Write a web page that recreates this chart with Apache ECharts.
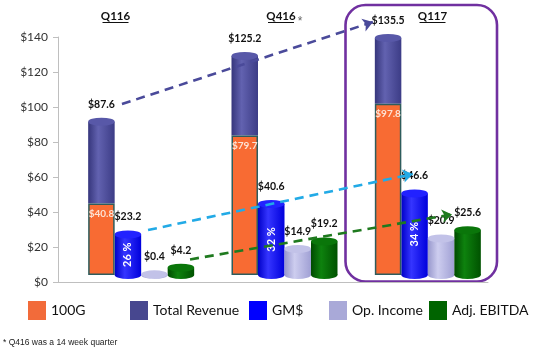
<!DOCTYPE html>
<html><head><meta charset="utf-8">
<script src="https://cdn.jsdelivr.net/npm/echarts/dist/echarts.min.js"></script>
<style>html,body{margin:0;padding:0;background:#fff}#c{width:542px;height:348px}</style>
</head><body><div id="c"></div>
<script>
// ---- data ----
const quarters = ['Q116', 'Q416', 'Q117'];
const g100 = [40.8, 79.7, 97.8];
const totalRevenue = [87.6, 125.2, 135.5];
const gmDollars = [23.2, 40.6, 46.6];
const gmPercent = ['26 %', '32 %', '34 %'];
const opIncome = [0.4, 14.9, 20.9];
const adjEbitda = [4.2, 19.2, 25.6];
const yMin = 0, yMax = 140, yStep = 20;
// trend arrows: [category position, value] start/end in data space
const revTrend = [[-0.134, 97.7], [1.617, 144.6]];
const gmTrend = [[0.048, 25.7], [1.896, 57.7]];
const ebitdaTrend = [[0.341, 8.9], [2.169, 34.6]];
const footnote = '* Q416 was a 14 week quarter';

// ---- styling ----
const FONT = 'Lato, "Open Sans", sans-serif';
const BW = 26.5;
function cyl(a, b, c) {
  return {type: 'linear', x: 0, y: 0, x2: 1, y2: 0,
    colorStops: [{offset: 0, color: a}, {offset: 0.38, color: b}, {offset: 1, color: c}]};
}
const revFill = cyl('#36367c', '#6262b0', '#3c3c86');
const gmFill = cyl('#0000c8', '#3535ff', '#0000dc');
const opFill = cyl('#9797cc', '#cdcdef', '#a0a0d4');
const ebFill = cyl('#004a00', '#0e820e', '#005200');
const topLabel = arr => ({show: true, position: 'top', distance: 8, fontFamily: FONT,
  fontWeight: 'bold', fontSize: 10.5, color: '#111',
  formatter: p => '$' + arr[p.dataIndex].toFixed(1)});

function cap(name, arr, color) {
  return {name: name, type: 'pictorialBar', xAxisIndex: 1, yAxisIndex: 1, barWidth: BW, barGap: '0%',
    symbol: 'circle', symbolSize: [BW, 8], symbolPosition: 'end', symbolOffset: [0, '-50%'],
    data: arr, z: 4, silent: true, itemStyle: {color: color}, label: topLabel(arr)};
}
function bottom(name, arr, color, hidden) {
  return {name: name, type: 'pictorialBar', xAxisIndex: 2, yAxisIndex: 2, barWidth: BW, barGap: '0%',
    symbol: 'circle', symbolSize: [BW, 8], symbolPosition: 'start', symbolOffset: [0, '50%'],
    data: arr, z: 1, silent: true, itemStyle: {color: color, opacity: hidden ? 0 : 1}};
}
function trend(name, pts, color) {
  return {name: name, type: 'lines', coordinateSystem: 'cartesian2d', xAxisIndex: 3, yAxisIndex: 3,
    clip: false, z: 6, silent: true, symbol: ['none', 'arrow'], symbolSize: 10,
    lineStyle: {color: color, width: 2.6, type: [9, 6], opacity: 1},
    data: [{coords: pts}]};
}
const GA = {left: 58, right: 54, top: 37, bottom: 66};
const GB = {left: 69.5, right: 42.5, top: 30, bottom: 73};
const legendCfg = (name, color, left) => ({
  data: [{name: name, itemStyle: {color: color, borderWidth: 0}}], left: left, top: 301, padding: 0,
  itemWidth: 18, itemHeight: 19, icon: 'rect', selectedMode: false,
  textStyle: {fontFamily: FONT, fontSize: 14, color: '#111'}});

const chart = echarts.init(document.getElementById('c'));
chart.setOption({
  animation: false,
  grid: [GA, GB, GB, GB],
  xAxis: [
    {type: 'category', gridIndex: 0, data: quarters,
      axisLine: {lineStyle: {color: '#bfbfbf'}}, axisTick: {length: 5, lineStyle: {color: '#bfbfbf'}},
      axisLabel: {show: false}},
    {type: 'category', gridIndex: 1, data: quarters, show: false},
    {type: 'category', gridIndex: 2, data: quarters, show: false},
    {type: 'value', gridIndex: 3, min: -0.5, max: 2.5, show: false}
  ],
  yAxis: [
    {type: 'value', gridIndex: 0, min: yMin, max: yMax, interval: yStep,
      axisLine: {show: true, lineStyle: {color: '#bfbfbf'}},
      axisTick: {show: true, length: 5, lineStyle: {color: '#bfbfbf'}},
      splitLine: {show: false},
      axisLabel: {formatter: v => '$' + v, fontFamily: FONT, fontSize: 12, color: '#333', margin: 10}},
    {type: 'value', gridIndex: 1, min: yMin, max: yMax, show: false},
    {type: 'value', gridIndex: 2, min: yMin, max: yMax, show: false},
    {type: 'value', gridIndex: 3, min: yMin, max: yMax, show: false}
  ],
  legend: [
    legendCfg('100G', '#f26b3a', 28),
    legendCfg('Total Revenue', '#47478f', 130),
    legendCfg('GM$', '#0000ff', 249),
    legendCfg('Op. Income', '#a9a9d8', 329),
    legendCfg('Adj. EBITDA', '#006400', 429)
  ],
  series: [
    {name: '100G', type: 'bar', xAxisIndex: 1, yAxisIndex: 1, stack: 'rev', barWidth: BW, barGap: '0%',
      data: g100, z: 3,
      itemStyle: {color: '#f86b33', borderColor: '#2e5c5c', borderWidth: 1.5},
      label: {show: true, position: 'insideTop', distance: 5, fontFamily: FONT, fontWeight: 'bold',
        fontSize: 10, color: '#fde2d4', formatter: p => '$' + g100[p.dataIndex].toFixed(1)}},
    {name: 'Total Revenue', type: 'bar', xAxisIndex: 1, yAxisIndex: 1, stack: 'rev', barWidth: BW,
      data: totalRevenue.map((t, i) => +(t - g100[i]).toFixed(1)), z: 2,
      itemStyle: {color: revFill}},
    {name: 'GM$', type: 'bar', xAxisIndex: 1, yAxisIndex: 1, barWidth: BW, data: gmDollars, z: 2,
      itemStyle: {color: gmFill},
      label: {show: true, position: 'inside', rotate: 90, fontFamily: FONT, fontWeight: 'bold',
        fontSize: 11, color: '#ffffff', formatter: p => gmPercent[p.dataIndex]}},
    {name: 'Op. Income', type: 'bar', xAxisIndex: 1, yAxisIndex: 1, barWidth: BW, data: opIncome, z: 2,
      itemStyle: {color: opFill}},
    {name: 'Adj. EBITDA', type: 'bar', xAxisIndex: 1, yAxisIndex: 1, barWidth: BW, data: adjEbitda, z: 2,
      itemStyle: {color: ebFill}},
    cap('revCap', totalRevenue, '#5858a8'),
    cap('gmCap', gmDollars, '#2222ff'),
    cap('opCap', opIncome, '#c2c2e8'),
    cap('ebCap', adjEbitda, '#0a760a'),
    bottom('revBase', totalRevenue, revFill, true),
    bottom('gmBase', gmDollars, gmFill),
    bottom('opBase', opIncome, opFill),
    bottom('ebBase', adjEbitda, ebFill),
    trend('revTrend', revTrend, '#4a4a9a'),
    trend('gmTrend', gmTrend, '#22aae6'),
    trend('ebTrend', ebitdaTrend, '#1f7a1f')
  ],
  graphic: [
    {type: 'rect', shape: {x: 345.5, y: 5, width: 151.5, height: 276.5, r: 20}, z: 0,
      style: {fill: 'none', stroke: '#7030a0', lineWidth: 2.6}},
    {type: 'text', x: 115.5, y: 16, style: {text: quarters[0], font: 'bold 11.5px ' + FONT, fill: '#111', textAlign: 'center', textVerticalAlign: 'middle'}},
    {type: 'line', shape: {x1: 102.5, y1: 22.5, x2: 128.5, y2: 22.5}, style: {stroke: '#111', lineWidth: 1}},
    {type: 'text', x: 281, y: 16, style: {text: quarters[1], font: 'bold 11.5px ' + FONT, fill: '#111', textAlign: 'center', textVerticalAlign: 'middle'}},
    {type: 'line', shape: {x1: 268, y1: 22.5, x2: 294, y2: 22.5}, style: {stroke: '#111', lineWidth: 1}},
    {type: 'text', x: 300, y: 22, style: {text: '*', font: '12px "Liberation Sans", Arial, sans-serif', fill: '#666', textAlign: 'center', textVerticalAlign: 'middle'}},
    {type: 'text', x: 432.5, y: 16, style: {text: quarters[2], font: 'bold 11.5px ' + FONT, fill: '#111', textAlign: 'center', textVerticalAlign: 'middle'}},
    {type: 'line', shape: {x1: 419.5, y1: 22.5, x2: 445.5, y2: 22.5}, style: {stroke: '#111', lineWidth: 1}},
    {type: 'text', x: 3, y: 343, style: {text: footnote, font: '8.5px "Liberation Sans", Arial, sans-serif', fill: '#222', textAlign: 'left', textVerticalAlign: 'middle'}}
  ]
});
</script></body></html>
